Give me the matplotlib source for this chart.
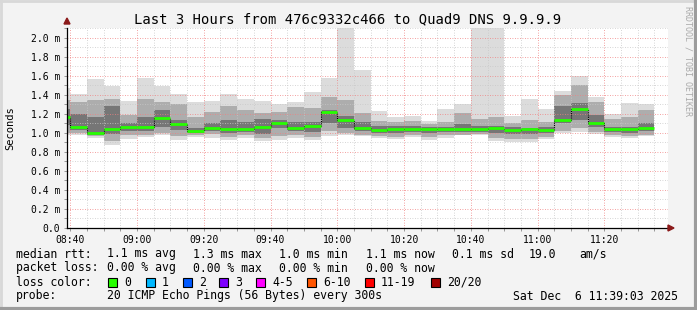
"""SmokePing style latency chart: last 3 hours to Quad9 DNS."""

import matplotlib

matplotlib.use("Agg")
import matplotlib.dates as mdates
import matplotlib.pyplot as plt
import pandas as pd
from matplotlib.patches import Rectangle
from matplotlib.ticker import FixedLocator, MultipleLocator

# ---- data (ms), one entry per 5 minute bin starting 08:35 ----
BIN_START = pd.date_range("2025-12-06 08:35", periods=36, freq="5min")
rtt_min = [0.98, 0.98, 0.95, 0.87, 0.94, 0.96, 0.98, 0.93, 0.96, 0.95, 0.93, 0.95,
           0.92, 0.93, 0.95, 0.93, 0.97, 0.98, 0.97, 0.95, 0.94, 0.96, 0.93, 0.95,
           0.98, 0.98, 0.92, 0.90, 0.91, 0.94, 1.00, 1.01, 0.99, 0.96, 0.95, 0.97]
rtt_lo = [1.00, 1.00, 0.97, 0.92, 0.98, 0.98, 1.00, 0.97, 0.98, 0.99, 0.96, 0.98,
          0.95, 0.97, 0.98, 0.96, 1.02, 1.00, 0.98, 0.97, 0.96, 0.98, 0.96, 0.98,
          0.98, 0.99, 0.95, 0.94, 0.94, 0.96, 1.02, 1.05, 1.01, 0.98, 0.97, 0.98]
rtt_q1 = [1.08, 1.03, 0.98, 0.99, 1.02, 1.02, 1.06, 1.03, 1.00, 1.02, 1.00, 1.01,
          0.99, 1.05, 1.02, 1.01, 1.10, 1.05, 1.02, 1.00, 1.00, 1.01, 1.00, 1.01,
          1.01, 1.01, 1.00, 0.99, 0.99, 1.00, 1.10, 1.14, 1.06, 1.01, 1.00, 1.02]
rtt_median = [1.17, 1.066, 1.00, 1.04, 1.06, 1.06, 1.16, 1.09, 1.025, 1.05, 1.04, 1.045,
              1.063, 1.11, 1.056, 1.07, 1.225, 1.14, 1.056, 1.03, 1.04, 1.04, 1.04, 1.04,
              1.04, 1.04, 1.056, 1.03, 1.04, 1.028, 1.14, 1.256, 1.11, 1.04, 1.04, 1.056]
rtt_q3 = [1.25, 1.20, 1.17, 1.28, 1.10, 1.17, 1.24, 1.14, 1.05, 1.10, 1.14, 1.12,
          1.15, 1.14, 1.12, 1.12, 1.24, 1.18, 1.12, 1.07, 1.07, 1.07, 1.06, 1.06,
          1.09, 1.07, 1.07, 1.06, 1.05, 1.06, 1.28, 1.32, 1.19, 1.06, 1.06, 1.10]
rtt_hi = [1.35, 1.33, 1.35, 1.36, 1.19, 1.36, 1.33, 1.30, 1.17, 1.22, 1.28, 1.24,
          1.21, 1.22, 1.27, 1.26, 1.38, 1.35, 1.21, 1.13, 1.12, 1.13, 1.09, 1.12,
          1.21, 1.15, 1.17, 1.10, 1.14, 1.12, 1.40, 1.50, 1.33, 1.15, 1.17, 1.24]
rtt_max = [1.47, 1.41, 1.57, 1.49, 1.34, 1.58, 1.49, 1.41, 1.33, 1.34, 1.41, 1.36,
           1.34, 1.30, 1.33, 1.43, 1.58, 2.5, 1.66, 1.23, 1.17, 1.175, 1.13, 1.256,
           1.305, 2.5, 2.5, 1.175, 1.36, 1.25, 1.44, 1.60, 1.38, 1.20, 1.316, 1.305]

Y_TICKS = [0.0, 0.2, 0.4, 0.6, 0.8, 1.0, 1.2, 1.4, 1.6, 1.8, 2.0]
Y_LABELS = ["0.0"] + [f"{v:.1f} m" for v in Y_TICKS[1:]]

LOSS_COLORS = ["#26ff00", "#00b8ff", "#0059ff", "#7e00ff", "#ff00ff", "#ff5500", "#ff0000", "#a10000"]
LOSS_LABELS = ["0", "1", "2", "3", "4-5", "6-10", "11-19", "20/20"]

MONO = "DejaVu Sans Mono"
BG = "#f3f3f3"

fig = plt.figure(figsize=(6.97, 3.10), dpi=100, facecolor=BG)
W, H = 697, 310


def px(x, y):
    return x / W, 1 - y / H


ax = fig.add_axes([67 / W, 1 - 228 / H, 601 / W, 200 / H])
ax.set_facecolor("white")

t0 = pd.Timestamp("2025-12-06 08:39:03")
t1 = pd.Timestamp("2025-12-06 11:39:03")
ax.set_xlim(t0, t1)
ax.set_ylim(0, 2.105)

width = pd.Timedelta(minutes=5)
xs = [mdates.date2num(t) for t in BIN_START]
w = mdates.date2num(BIN_START[0] + width) - xs[0]

for lo, hi, col in [(rtt_min, rtt_max, "#dcdcdc"), (rtt_lo, rtt_hi, "#adadad"), (rtt_q1, rtt_q3, "#767676")]:
    ax.bar(xs, [h - l for l, h in zip(lo, hi)], bottom=lo, width=w, align="edge",
           color=col, linewidth=0, zorder=2)

# median: black steps + green bars
step_x = xs + [xs[-1] + w]
step_y = rtt_median + [rtt_median[-1]]
ax.step(step_x, step_y, where="post", color="black", lw=0.8, ls=(0, (1, 1)), zorder=3)
ax.hlines(rtt_median, xs, [x + w for x in xs], color=LOSS_COLORS[0], lw=2, zorder=4)

# grid
ax.xaxis.set_major_locator(mdates.MinuteLocator(byminute=[0, 20, 40]))
ax.xaxis.set_minor_locator(mdates.MinuteLocator(byminute=range(0, 60, 5)))
ax.xaxis.set_major_formatter(mdates.DateFormatter("%H:%M"))
ax.yaxis.set_major_locator(FixedLocator(Y_TICKS))
ax.yaxis.set_minor_locator(MultipleLocator(0.1))
ax.set_yticklabels(Y_LABELS)
ax.grid(which="minor", color="#c8c8c8", lw=0.6, ls=(0, (1, 2)), zorder=5)
ax.grid(which="major", color="#f08080", lw=0.6, ls=(0, (1, 2)), zorder=5)
ax.set_axisbelow(False)

for side in ["top", "right"]:
    ax.spines[side].set_visible(False)
for side in ["left", "bottom"]:
    ax.spines[side].set_color("black")
    ax.spines[side].set_linewidth(0.9)
    ax.spines[side].set_zorder(6)

ax.tick_params(which="both", direction="out", length=2, width=0.6, color="#888888",
               labelsize=7, pad=3)
for lab in ax.get_xticklabels() + ax.get_yticklabels():
    lab.set_family(MONO)

# axis arrows
fig.patches.append(plt.Polygon([px(64, 24), px(70, 24), px(67, 18)], closed=True,
                               color="#8b1a1a", transform=fig.transFigure))
fig.patches.append(plt.Polygon([px(668, 225), px(668, 231), px(674, 228)], closed=True,
                               color="#8b1a1a", transform=fig.transFigure))

fig.text(*px(348, 19), "Last 3 Hours from 476c9332c466 to Quad9 DNS 9.9.9.9",
         ha="center", va="center", fontsize=10, family=MONO)
fig.text(*px(10, 128), "Seconds", rotation=90, ha="center", va="center", fontsize=7.5, family=MONO)
fig.text(*px(688, 6), "RRDTOOL / TOBI OETIKER", rotation=-90, ha="center", va="top",
         fontsize=6, family=MONO, color="#aaaaaa")

# legend rows
LEG = dict(fontsize=8.3, family=MONO, va="center", ha="left")
row1 = [(16, "median rtt:"), (107, "1.1 ms avg"), (193, "1.3 ms max"), (279, "1.0 ms min"),
        (366, "1.1 ms now"), (452, "0.1 ms sd"), (529, "19.0"), (579, "am/s")]
row2 = [(16, "packet loss:"), (107, "0.00 % avg"), (193, "0.00 % max"), (279, "0.00 % min"),
        (366, "0.00 % now")]
for x, s in row1:
    fig.text(*px(x, 254), s, **LEG)
for x, s in row2:
    fig.text(*px(x, 268), s, **LEG)

fig.text(*px(16, 282), "loss color:", **LEG)
box_x = [108, 146, 183, 219, 256, 307, 365, 431]
for bx, col, lab in zip(box_x, LOSS_COLORS, LOSS_LABELS):
    fig.patches.append(Rectangle(px(bx, 287), 9 / W, 9 / H, facecolor=col, edgecolor="black",
                                 lw=0.8, transform=fig.transFigure))
    fig.text(*px(bx + 16, 282), lab, **LEG)

fig.text(*px(16, 296), "probe:", **LEG)
fig.text(*px(107, 296), "20 ICMP Echo Pings (56 Bytes) every 300s", **LEG)
fig.text(*px(513, 296), "Sat Dec  6 11:39:03 2025", **LEG)

# 3D frame
fig.add_artist(plt.Line2D([0, 1], [1 - 1 / H, 1 - 1 / H], color="#d8d8d8", lw=2, transform=fig.transFigure))
fig.add_artist(plt.Line2D([1 / W, 1 / W], [0, 1], color="#d8d8d8", lw=2, transform=fig.transFigure))
fig.add_artist(plt.Line2D([0, 1], [1.5 / H, 1.5 / H], color="#9c9c9c", lw=3, transform=fig.transFigure))
fig.add_artist(plt.Line2D([1 - 1.5 / W, 1 - 1.5 / W], [0, 1], color="#9c9c9c", lw=3, transform=fig.transFigure))

fig.savefig("out.png", dpi=100, facecolor=BG)
